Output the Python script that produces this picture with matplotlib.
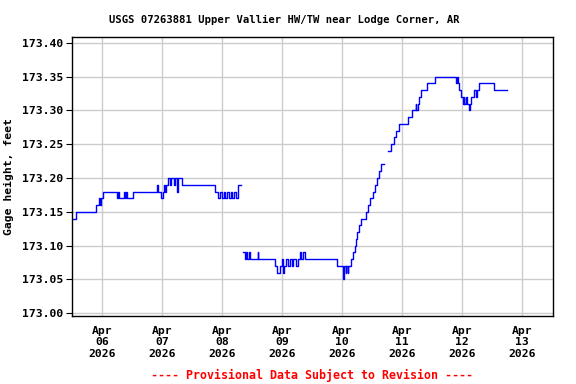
import numpy as np
import pandas as pd
import matplotlib
matplotlib.use("Agg")
import matplotlib.pyplot as plt
import matplotlib.dates as mdates

# step breakpoints (time, gage height) for the three pieces of record
seg1_times = ["04-05 12:00", "04-05 13:45", "04-05 21:45", "04-05 22:45", "04-05 23:15",
              "04-05 23:30", "04-06 00:30", "04-06 06:00", "04-06 06:30", "04-06 07:00",
              "04-06 08:45", "04-06 09:15", "04-06 09:30", "04-06 10:00", "04-06 12:30",
              "04-06 22:00", "04-06 22:30", "04-06 23:30", "04-07 00:15", "04-07 00:45",
              "04-07 01:15", "04-07 01:30", "04-07 02:30", "04-07 03:15", "04-07 03:30",
              "04-07 04:45", "04-07 05:15", "04-07 06:00", "04-07 06:30", "04-07 08:00",
              "04-07 21:15", "04-07 22:30", "04-07 23:15", "04-08 00:00", "04-08 00:45",
              "04-08 01:15", "04-08 02:00", "04-08 02:45", "04-08 03:30", "04-08 04:00",
              "04-08 04:45", "04-08 05:30", "04-08 06:30", "04-08 07:30"]
seg1_vals = [173.14, 173.15, 173.16, 173.17, 173.16,
             173.17, 173.18, 173.17, 173.18, 173.17,
             173.18, 173.17, 173.18, 173.17, 173.18,
             173.19, 173.18, 173.17, 173.18, 173.19,
             173.18, 173.19, 173.20, 173.19, 173.20,
             173.19, 173.20, 173.18, 173.20, 173.19,
             173.18, 173.17, 173.18, 173.17, 173.18,
             173.17, 173.18, 173.17, 173.18, 173.17,
             173.18, 173.17, 173.19, 173.19]

seg2_times = ["04-08 08:30", "04-08 09:15", "04-08 09:30", "04-08 10:00", "04-08 10:45",
              "04-08 11:15", "04-08 14:15", "04-08 14:30", "04-08 21:15", "04-08 22:00",
              "04-08 23:15", "04-09 00:00", "04-09 00:30", "04-09 00:45", "04-09 01:30",
              "04-09 02:30", "04-09 03:15", "04-09 04:00", "04-09 04:30", "04-09 05:30",
              "04-09 06:30", "04-09 07:15", "04-09 07:45", "04-09 08:15", "04-09 09:15",
              "04-09 22:00", "04-10 00:30", "04-10 01:00", "04-10 01:30", "04-10 01:45",
              "04-10 02:15", "04-10 02:30", "04-10 03:30", "04-10 04:30", "04-10 05:15",
              "04-10 05:45", "04-10 06:00", "04-10 06:45", "04-10 07:30", "04-10 09:30",
              "04-10 10:15", "04-10 11:15", "04-10 12:15", "04-10 13:15", "04-10 14:00",
              "04-10 14:45", "04-10 15:45", "04-10 17:00"]
seg2_vals = [173.09, 173.08, 173.09, 173.08, 173.09,
             173.08, 173.09, 173.08, 173.07, 173.06,
             173.07, 173.08, 173.06, 173.07, 173.08,
             173.07, 173.08, 173.07, 173.08, 173.07,
             173.08, 173.09, 173.08, 173.09, 173.08,
             173.07, 173.05, 173.07, 173.06, 173.07,
             173.06, 173.07, 173.08, 173.09, 173.10,
             173.11, 173.12, 173.13, 173.14, 173.15,
             173.16, 173.17, 173.18, 173.19, 173.20,
             173.21, 173.22, 173.22]

seg3_times = ["04-10 18:30", "04-10 19:45", "04-10 20:45", "04-10 21:45", "04-10 22:45",
              "04-11 02:30", "04-11 04:00", "04-11 05:30", "04-11 05:45", "04-11 06:15",
              "04-11 06:45", "04-11 07:30", "04-11 10:00", "04-11 13:15", "04-11 21:30",
              "04-11 22:00", "04-11 22:30", "04-11 23:00", "04-11 23:30", "04-12 00:30",
              "04-12 00:45", "04-12 01:00", "04-12 01:30", "04-12 02:00", "04-12 02:45",
              "04-12 03:15", "04-12 03:45", "04-12 04:45", "04-12 05:30", "04-12 06:00",
              "04-12 06:45", "04-12 12:45", "04-12 18:00"]
seg3_vals = [173.24, 173.25, 173.26, 173.27, 173.28,
             173.29, 173.30, 173.31, 173.30, 173.31,
             173.32, 173.33, 173.34, 173.35, 173.34,
             173.35, 173.34, 173.33, 173.32, 173.31,
             173.32, 173.31, 173.32, 173.31, 173.30,
             173.31, 173.32, 173.33, 173.32, 173.33,
             173.34, 173.33, 173.33]

tick_days = ["04-06", "04-07", "04-08", "04-09", "04-10", "04-11", "04-12", "04-13"]
y_ticks = [173.00, 173.05, 173.10, 173.15, 173.20, 173.25, 173.30, 173.35, 173.40]

title = "USGS 07263881 Upper Vallier HW/TW near Lodge Corner, AR"
footer = "---- Provisional Data Subject to Revision ----"


def to_dt(stamps):
    return pd.to_datetime(["2026-" + s for s in stamps])


fnt = dict(family="DejaVu Sans Mono", weight="bold")

fig = plt.figure(figsize=(5.76, 3.84), dpi=100)
ax = fig.add_axes([0.125, 0.177, 0.835, 0.727])

for t, v in [(seg1_times, seg1_vals), (seg2_times, seg2_vals), (seg3_times, seg3_vals)]:
    ax.plot(to_dt(t), v, color="#0000ff", lw=1.0, drawstyle="steps-post")

ax.set_xlim(pd.Timestamp("2026-04-05 12:00"), pd.Timestamp("2026-04-13 12:24"))
ax.set_ylim(172.9956, 173.409)

ticks = to_dt([d + " 00:00" for d in tick_days])
ax.set_xticks(ticks)
ax.set_xticklabels([t.strftime("%b\n%d\n%Y") for t in ticks], fontsize=8.2, linespacing=1.2, **fnt)
ax.set_yticks(y_ticks)
ax.set_yticklabels(["%.2f" % v for v in y_ticks], fontsize=8.2, **fnt)
ax.tick_params(axis="x", length=0, pad=7)
ax.tick_params(axis="y", length=4, width=0.8, pad=2)

ax.grid(True, color="#cccccc", lw=1.0)
ax.set_axisbelow(True)
for s in ax.spines.values():
    s.set_linewidth(1.0)

ax.set_ylabel("Gage height, feet", fontsize=8.2, labelpad=6, **fnt)
fig.text(0.494, 0.948, title, ha="center", va="center", fontsize=7.6, **fnt)
fig.text(0.5425, 0.023, footer, ha="center", va="center", fontsize=8.4, color="red", **fnt)

fig.savefig("out.png", dpi=100)
